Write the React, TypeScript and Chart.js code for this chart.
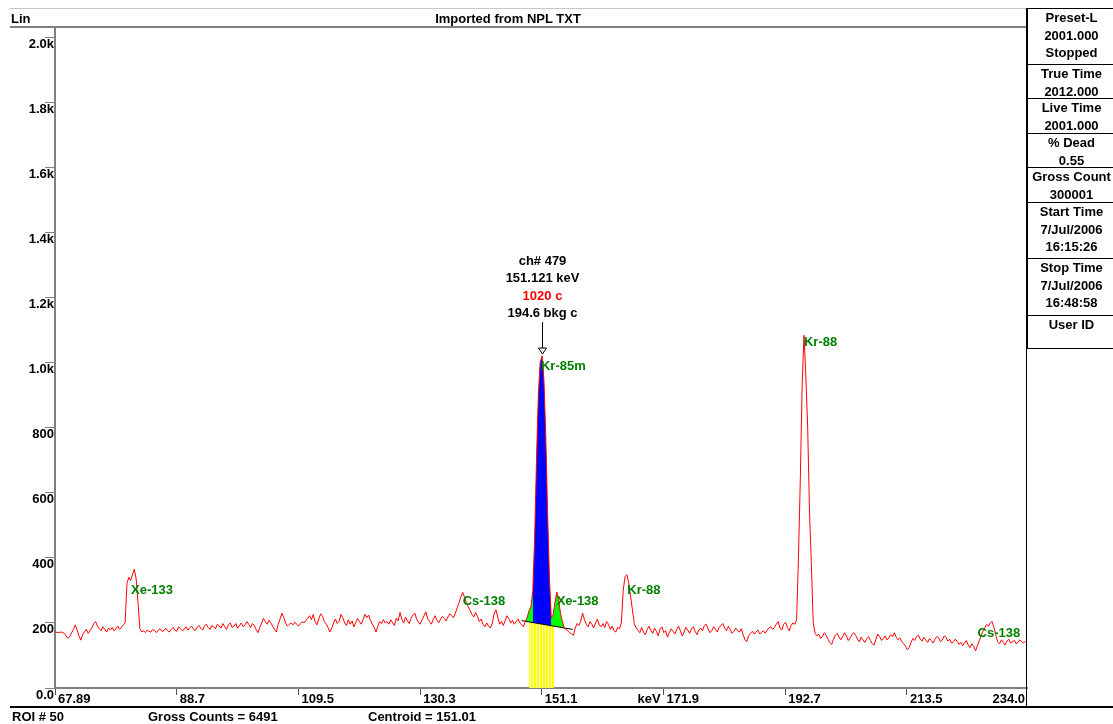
import React, { useEffect, useRef } from "react";
import { Chart, registerables } from "chart.js";

Chart.register(...registerables);

// ---- calibration / axis ----
const START_KEV = 67.89;
const KEV_PER_CHANNEL = 0.31527;
const X_MIN = 67.89;
const X_MAX = 234.0;
const Y_MAX = 2031;

// counts per channel (channel 215 .. 741)
const counts: number[] = [
  // 0-59
  172, 171, 170, 172, 171, 168, 160, 153, 158, 170,
  180, 194, 178, 160, 147, 165, 172, 180, 168, 176,
  185, 198, 204, 190, 182, 176, 188, 180, 172, 184,
  178, 186, 176, 182, 190, 180, 186, 194,
  200, 320, 340, 330, 348, 365, 335, 262, 182, 172,
  176, 170, 178, 174, 172, 180, 176, 170, 178, 182, 174, 176,
  // 60-216
  184, 176, 172, 180, 186, 178, 174, 188, 182, 176,
  180, 188, 178, 184, 190, 182, 176, 186, 192, 184,
  178, 190, 196, 186, 180, 192, 188, 182, 196, 190,
  184, 198, 188, 180, 194, 200, 186, 190, 198, 184,
  192, 200, 188, 194, 204, 196, 186, 198, 192, 180,
  170, 186, 200, 214, 204, 196, 208, 200, 190, 180,
  172, 196, 212, 230, 216, 200, 190, 196, 200, 194,
  202, 196, 190, 198, 204, 200, 208, 214, 222, 210,
  226, 204, 194, 212, 228, 220, 204, 196, 186, 172,
  184, 200, 212, 198, 204, 226, 216, 200, 192, 210,
  196, 206, 188, 200, 214, 204, 196, 210, 226, 216,
  224, 208, 196, 186, 172, 190, 204, 198, 210, 200,
  204, 196, 210, 200, 192, 214, 206, 232, 212, 200,
  218, 206, 198, 214, 224, 230, 212, 202, 196, 210,
  222, 234, 214, 204, 196, 210, 222, 208, 200, 212,
  220, 214, 206, 218, 228, 222, 216,
  // 217-255
  230, 246, 262, 280, 294, 278, 262, 250, 238, 226,
  218, 232, 220, 204, 212, 196, 188, 200, 190, 184,
  198, 228, 240, 218, 196, 204, 192, 206, 222, 214,
  200, 208, 196, 204, 212, 200, 194, 188, 206,
  // 256-276
  218, 238, 250, 300, 460, 700, 900, 1000, 1020, 950,
  780, 540, 340, 215, 225, 262, 295, 268, 230, 205, 185,
  // 277-315
  180, 176, 170, 166, 162, 184, 198, 192, 206, 230,
  210, 196, 188, 204, 196, 184, 200, 212, 194, 188,
  198, 186, 204, 196, 180, 190, 176, 172, 186, 182,
  200, 300, 342, 348, 322, 282, 240, 198, 184,
  // 316-401
  178, 170, 186, 172, 164, 180, 190, 176, 168, 184,
  174, 160, 182, 188, 170, 176, 156, 170, 182, 174,
  166, 180, 190, 176, 160, 172, 186, 178, 168, 182,
  188, 174, 164, 178,
  184, 176, 192, 196, 182, 170, 176, 188, 180, 172,
  186, 192, 198, 184, 176, 190, 180, 168, 174, 184,
  176, 172, 182, 164, 148, 142, 160, 168, 174, 166,
  172, 178, 166, 170, 176, 168, 178, 184, 188, 180,
  186, 196, 204, 184, 178, 196, 202, 186, 176, 192, 200, 196,
  // 402-412
  210, 400, 640, 930, 1084, 960, 800, 540, 380, 200, 168,
  // 413-500
  160, 166, 152, 158, 170, 162, 150, 140, 134, 150,
  162, 168, 156, 148, 158, 170, 160, 146, 154, 164,
  170, 162, 150, 142, 156, 148, 140, 152, 158, 146,
  136, 132, 150, 166, 158, 146, 152, 160, 148, 154,
  164, 158, 170, 156, 148, 154, 142, 136, 128, 118,
  124, 140, 152, 146, 158, 162, 150, 144, 156, 148,
  140, 152, 146, 138, 150, 158, 154, 142, 148, 160,
  156, 144, 150, 138, 142, 150, 144, 134, 140, 130,
  138, 146, 132, 124, 136, 128, 114, 130,
  // 501-526
  145, 160, 175, 185, 195, 190, 200, 204, 186, 162, 142, 136,
  148, 140, 132, 144, 150, 138, 142, 146, 136, 140, 148, 142, 138, 144,
];

// ---- ticks ----
const yTickValues = [0, 200, 400, 600, 800, 1000, 1200, 1400, 1600, 1800, 2000];
const yTickLabels = ["0.0", "200", "400", "600", "800", "1.0k", "1.2k", "1.4k", "1.6k", "1.8k", "2.0k"];
const xTickValues = [67.89, 88.69, 109.49, 130.29, 151.09, 171.89, 192.69, 213.49];
const xTickLabels = ["67.89", "88.7", "109.5", "130.3", "151.1", "171.9", "192.7", "213.5"];
const xEndLabel = "234.0";
const xUnitLabel = "keV";

// ---- nuclide identification labels ----
const nuclideNames = ["Xe-133", "Cs-138", "Kr-85m", "Xe-138", "Kr-88", "Kr-88", "Cs-138"];
const nuclideLabelKeV = [80.88, 137.56, 150.94, 153.62, 165.69, 195.88, 225.56];
const nuclideLabelCounts = [300, 265, 989, 265, 301, 1061, 168];

// ---- ROI ----
const roiGreenRange = [255, 276];
const roiBlueRange = [259, 269];
const bkgKeV = [147.64, 156.35];
const bkgCounts = [207, 180];
const roiYellowKeV = [148.89, 153.16];
const roiYellowCounts = [203, 190];

// ---- cursor ----
const cursorKeV = 151.121;
const cursorCounts = 1020;
const cursorLines = ["ch# 479", "151.121 keV", "1020 c", "194.6 bkg c"];

// ---- side panel / status ----
const panelBoxes: string[][] = [
  ["Preset-L", "2001.000", "Stopped"],
  ["True Time", "2012.000"],
  ["Live Time", "2001.000"],
  ["% Dead", "0.55"],
  ["Gross Count", "300001"],
  ["Start Time", "7/Jul/2006", "16:15:26"],
  ["Stop Time", "7/Jul/2006", "16:48:58"],
  ["User ID", ""],
];
const panelBoxTops = [8, 64, 98, 133, 167, 202, 258, 315, 348];
const statusTexts = ["ROI # 50", "Gross Counts = 6491", "Centroid = 151.01"];
const statusLefts = [12, 148, 368];
const titleText = "Imported from NPL TXT";
const scaleModeText = "Lin";

const FONT_FAMILY = '"Liberation Sans", Arial, sans-serif';
const FONT = `bold 13px ${FONT_FAMILY}`;

const overlayPlugin = {
  id: "overlay",
  afterDatasetsDraw(chart: any) {
    const { ctx } = chart;
    const x = chart.scales.x;
    const y = chart.scales.y;
    ctx.save();
    ctx.font = FONT;
    // nuclide labels
    ctx.fillStyle = "#008000";
    ctx.textAlign = "left";
    ctx.textBaseline = "middle";
    nuclideNames.forEach((n, i) => {
      ctx.fillText(n, x.getPixelForValue(nuclideLabelKeV[i]), y.getPixelForValue(nuclideLabelCounts[i]));
    });
    // cursor
    const cx = Math.round(x.getPixelForValue(cursorKeV)) + 0.5;
    const cy = y.getPixelForValue(cursorCounts);
    ctx.strokeStyle = "#000";
    ctx.lineWidth = 1;
    ctx.beginPath();
    ctx.moveTo(cx, cy - 34);
    ctx.lineTo(cx, cy - 8);
    ctx.stroke();
    ctx.beginPath();
    ctx.moveTo(cx - 4, cy - 8);
    ctx.lineTo(cx + 4, cy - 8);
    ctx.lineTo(cx, cy - 2);
    ctx.closePath();
    ctx.stroke();
    ctx.textAlign = "center";
    const offs = [-95, -78, -60, -43];
    cursorLines.forEach((t, i) => {
      ctx.fillStyle = i === 2 ? "#ff0000" : "#000";
      ctx.fillText(t, cx, cy + offs[i]);
    });
    // x end label + unit
    ctx.fillStyle = "#000";
    ctx.textAlign = "right";
    const ly = x.top + 11;
    ctx.fillText(xEndLabel, x.right - 2, ly);
    ctx.fillText(xUnitLabel, x.getPixelForValue(xTickValues[5]) - 3, ly);
    ctx.restore();
  },
};

export default function App() {
  const canvasRef = useRef<HTMLCanvasElement | null>(null);

  useEffect(() => {
    const canvas = canvasRef.current;
    if (!canvas) return;
    const ctx = canvas.getContext("2d")!;

    const pc = document.createElement("canvas");
    pc.width = 3;
    pc.height = 1;
    const pctx = pc.getContext("2d")!;
    pctx.fillStyle = "#ffff00";
    pctx.fillRect(0, 0, 3, 1);
    pctx.fillStyle = "#ffffd0";
    pctx.fillRect(2, 0, 1, 1);
    const pattern = ctx.createPattern(pc, "repeat");

    const spectrum = counts.map((c, i) => ({ x: START_KEV + i * KEV_PER_CHANNEL, y: c }));
    const sliceRange = (r: number[]) => spectrum.slice(r[0], r[1] + 1);

    const chart = new Chart(canvas, {
      type: "line",
      data: {
        datasets: [
          {
            label: "spectrum",
            data: spectrum,
            borderColor: "#ff0000",
            borderWidth: 1,
            borderJoinStyle: "round",
            pointRadius: 0,
            fill: false,
            tension: 0,
          },
          {
            label: "bkg",
            data: bkgKeV.map((k, i) => ({ x: k, y: bkgCounts[i] })),
            borderColor: "#000000",
            borderWidth: 1,
            pointRadius: 0,
            fill: false,
          },
          {
            label: "net",
            data: sliceRange(roiBlueRange),
            borderWidth: 0,
            borderColor: "rgba(0,0,0,0)",
            pointRadius: 0,
            fill: { target: 1, above: "#0000ff", below: "rgba(0,0,0,0)" },
          },
          {
            label: "roi",
            data: sliceRange(roiGreenRange),
            borderWidth: 0,
            borderColor: "rgba(0,0,0,0)",
            pointRadius: 0,
            fill: { target: 1, above: "#00ff00", below: "rgba(0,0,0,0)" },
          },
          {
            label: "roiMark",
            data: roiYellowKeV.map((k, i) => ({ x: k, y: roiYellowCounts[i] })),
            borderWidth: 0,
            borderColor: "rgba(0,0,0,0)",
            pointRadius: 0,
            backgroundColor: pattern as any,
            fill: "origin",
          },
        ],
      },
      options: {
        animation: false,
        responsive: false,
        maintainAspectRatio: false,
        devicePixelRatio: 1,
        layout: { padding: { left: 8, top: 27, right: 86, bottom: 16 } },
        plugins: {
          legend: { display: false },
          tooltip: { enabled: false },
          title: { display: false },
        },
        events: [],
        scales: {
          x: {
            type: "linear",
            min: X_MIN,
            max: X_MAX,
            afterBuildTicks: (scale: any) => {
              scale.ticks = xTickValues.map((v) => ({ value: v }));
            },
            afterFit: (scale: any) => {
              scale.height = 20;
            },
            ticks: {
              autoSkip: false,
              maxRotation: 0,
              minRotation: 0,
              align: "start",
              labelOffset: 3,
              padding: -3,
              color: "#000",
              font: { family: FONT_FAMILY, size: 13, weight: "bold" },
              callback: (_v: any, i: number) => xTickLabels[i],
            },
            grid: { drawOnChartArea: false, drawTicks: true, tickLength: 7, color: "#505050" },
            border: { display: true, color: "#808080", width: 2 },
          },
          y: {
            type: "linear",
            min: 0,
            max: Y_MAX,
            afterBuildTicks: (scale: any) => {
              scale.ticks = yTickValues.map((v) => ({ value: v }));
            },
            afterFit: (scale: any) => {
              scale.width = 47;
            },
            ticks: {
              autoSkip: false,
              padding: -9,
              labelOffset: 7,
              color: "#000",
              font: { family: FONT_FAMILY, size: 13, weight: "bold" },
              callback: (_v: any, i: number) => yTickLabels[i],
            },
            grid: { drawOnChartArea: false, drawTicks: true, tickLength: 10, color: "#808080" },
            border: { display: true, color: "#808080", width: 2 },
          },
        },
      } as any,
      plugins: [overlayPlugin],
    });
    return () => chart.destroy();
  }, []);

  const textStyle: React.CSSProperties = {
    position: "absolute",
    font: FONT,
    lineHeight: "18px",
    whiteSpace: "nowrap",
    color: "#000",
  };

  return (
    <div
      style={{
        position: "fixed",
        left: 0,
        top: 0,
        width: 1113,
        height: 724,
        background: "#fff",
        overflow: "hidden",
      }}
    >
      <canvas ref={canvasRef} width={1113} height={724} style={{ position: "absolute", left: 0, top: 0, width: 1113, height: 724 }} />
      {/* faint top line */}
      <div style={{ position: "absolute", left: 10, top: 8, width: 1017, height: 1, background: "#c8c8c8" }} />
      {/* plot top line */}
      <div style={{ position: "absolute", left: 10, top: 26, width: 1017, height: 2, background: "#808080" }} />
      {/* right border of plot */}
      <div style={{ position: "absolute", left: 1026, top: 8, width: 1, height: 700, background: "#000" }} />
      {/* bottom line */}
      <div style={{ position: "absolute", left: 10, top: 706, width: 1103, height: 2, background: "#000" }} />
      <div style={{ ...textStyle, left: 11, top: 10 }}>{scaleModeText}</div>
      <div style={{ ...textStyle, left: 388, top: 10, width: 240, textAlign: "center" }}>{titleText}</div>
      {statusTexts.map((t, i) => (
        <div key={i} style={{ ...textStyle, left: statusLefts[i], top: 708 }}>
          {t}
        </div>
      ))}
      {panelBoxes.map((lines, i) => (
        <div
          key={i}
          style={{
            position: "absolute",
            left: 1027,
            top: panelBoxTops[i],
            width: 88,
            height: panelBoxTops[i + 1] - panelBoxTops[i] + (i === panelBoxes.length - 1 ? 1 : 0),
            borderTop: "1px solid #000",
            borderLeft: "1px solid #000",
            borderBottom: i === panelBoxes.length - 1 ? "1px solid #000" : "none",
            boxSizing: "border-box",
            paddingTop: 0,
            overflow: "hidden",
          }}
        >
          {lines.map((l, j) => (
            <div key={j} style={{ font: FONT, lineHeight: "17px", height: 17.5, textAlign: "center", whiteSpace: "nowrap", color: "#000" }}>
              {l}
            </div>
          ))}
        </div>
      ))}
    </div>
  );
}
